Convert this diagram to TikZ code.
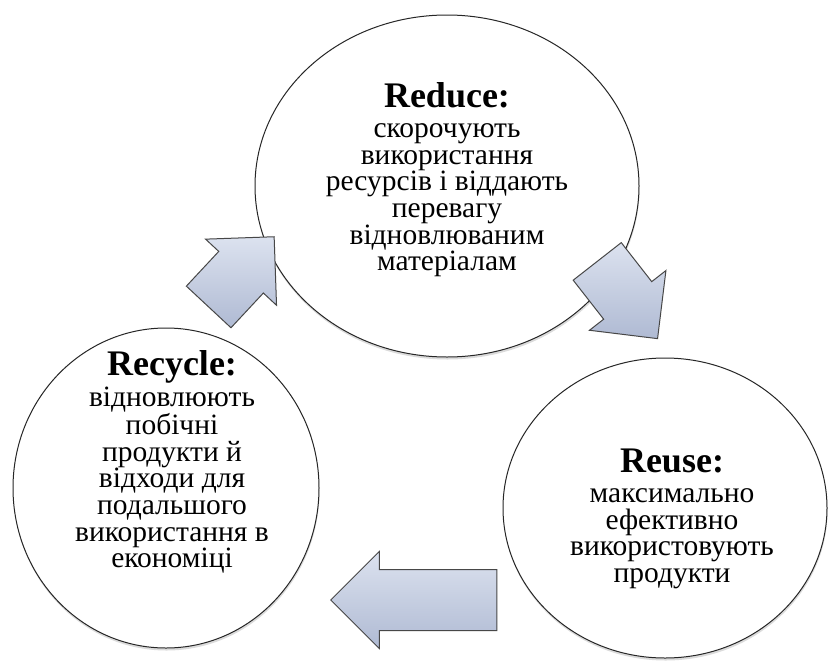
\documentclass[tikz,border=0pt]{standalone}
\usepackage{fontspec}
\setmainfont{Liberation Serif}
\usetikzlibrary{shapes.geometric,shapes.arrows,shadows}
\definecolor{ringln}{HTML}{262626}
\definecolor{arrlt}{HTML}{DCE2EF}
\definecolor{arrdk}{HTML}{AFBAD3}
\definecolor{arrln}{HTML}{474747}
\newcommand{\ttlfont}{\fontsize{36}{36}\selectfont\bfseries}
\tikzset{
  ring/.style={ellipse, draw=ringln, fill=white, line width=1pt, inner sep=0pt,
               drop shadow={shadow xshift=0.5pt, shadow yshift=-2.5pt, fill=black!40, opacity=0.35}},
  txt/.style={align=center, inner sep=0pt, font=\fontsize{29.5}{26.7}\selectfont},
  blk/.style={single arrow, draw=arrln, line width=1pt, inner xsep=0pt, inner ysep=30pt,
              minimum width=0pt, single arrow head extend=18pt,
              top color=arrlt, bottom color=arrdk},
}

\begin{document}
\begin{tikzpicture}[x=1pt, y=-1pt]
  \useasboundingbox (0,0) rectangle (829,664);
  \fill[white] (0,0) rectangle (829,664);

  % three circles
  \node[ring, minimum width=384pt, minimum height=342pt] (red) at (447,186) {};
  \node[ring, minimum width=306pt, minimum height=320pt] (rec) at (166,488) {};
  \node[ring, minimum width=324pt, minimum height=300pt] (reu) at (665,508) {};

  \node[txt] (redtxt) at (447,180) {{\ttlfont Reduce:}\\[3pt] скорочують\\ використання\\
    ресурсів і віддають\\ перевагу\\ відновлюваним\\ матеріалам};
  \node[txt] (rectxt) at (172,462) {{\ttlfont Recycle:}\\[3pt] відновлюють\\ побічні\\
    продукти й\\ відходи для\\ подальшого\\ використання в\\ економіці};
  \node[txt] (reutxt) at (672,519) {{\ttlfont Reuse:}\\[3pt] максимально\\ ефективно\\
    використовують\\ продукти};

  % block arrows between the circles
  \node[blk, minimum height=96pt, rotate=47] (upar) at (231,283) {};
  \node[blk, minimum height=98pt, rotate=-52] (dnar) at (618,288) {};
  \node[blk, minimum height=166pt, rotate=180] (lfar) at (429,600) {};
\end{tikzpicture}
\end{document}
